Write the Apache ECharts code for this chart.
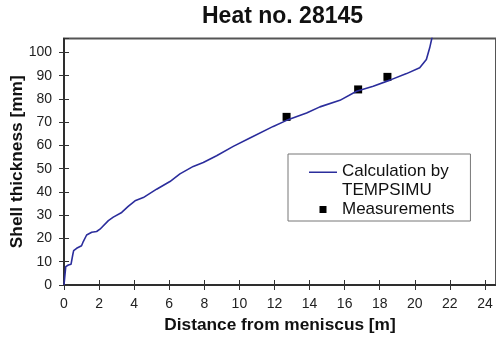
<!DOCTYPE html>
<html>
<head>
<meta charset="utf-8">
<script src="https://cdn.jsdelivr.net/npm/echarts@6/dist/echarts.min.js"></script>
<style>html,body{margin:0;padding:0;background:#fff}#c{width:496px;height:341px}</style>
</head>
<body>
<div id="c"></div>
<script>
const titleText = 'Heat no. 28145';
const xName = 'Distance from meniscus [m]';
const yName = 'Shell thickness [mm]';
const calcName = 'Calculation by TEMPSIMU';
const measName = 'Measurements';

const calcX = [0, 0.05, 0.1, 0.25, 0.4, 0.5, 0.55, 0.72, 1.0, 1.1, 1.29, 1.58, 1.86, 2.05, 2.53, 2.81, 3.29, 3.66, 4.05, 4.52, 5.28, 6.04, 6.61, 7.37, 7.94, 8.7, 9.65, 10.6, 11.93, 12.69, 13.83, 14.59, 15.73, 16.68, 17.63, 18.58, 19.53, 20.28, 20.66, 20.85, 21.0];
const calcY = [0, 4, 7.9, 8.6, 8.9, 13, 14.8, 15.8, 16.9, 18.7, 21.5, 22.7, 23.0, 24.0, 27.7, 29.2, 31.2, 33.8, 36.2, 37.6, 41.2, 44.5, 47.8, 51.0, 52.7, 55.6, 59.6, 63.2, 68.2, 70.8, 74.0, 76.6, 79.4, 83.3, 85.5, 88.1, 90.9, 93.4, 97.0, 102, 107];

const measX = [12.69, 16.77, 18.44];
const measY = [72.3, 84.1, 89.5];

const FONT = '"Liberation Sans", Arial, sans-serif';
const chart = echarts.init(document.getElementById('c'), null, {renderer: 'canvas'});

const lineIcon = 'path://M0,0 L28,0 L28,1.6 L0,1.6 Z M0,19 L0.01,19 L0.01,19.01 Z';
const sqIcon = 'path://M0,0 L0.01,0 L0.01,0.01 Z M10.5,6 L17.5,6 L17.5,13 L10.5,13 Z M28,19 L27.99,19 L27.99,18.99 Z';

chart.setOption({
  animation: false,
  backgroundColor: '#fff',
  title: {
    text: titleText,
    left: 202, top: 5, padding: 0,
    textStyle: {fontFamily: FONT, fontSize: 23, fontWeight: 'bold', color: '#111'}
  },
  legend: {
    left: 288, top: 154,
    orient: 'vertical',
    padding: [8, 16, 2, 21],
    itemGap: 0,
    itemWidth: 28, itemHeight: 19,
    borderColor: '#777', borderWidth: 1,
    backgroundColor: '#fff',
    formatter: function (n) { return n === calcName ? 'Calculation by\nTEMPSIMU' : n; },
    textStyle: {fontFamily: FONT, fontSize: 17, color: '#111', lineHeight: 19},
    data: [
      {name: calcName, icon: lineIcon},
      {name: measName, icon: sqIcon}
    ]
  },
  grid: {left: 64, right: 0, top: 38.5, bottom: 56, show: true, borderColor: '#555', borderWidth: 2, backgroundColor: 'transparent', containLabel: false, outerBoundsMode: 'none'},
  xAxis: [{
    type: 'value', min: 0, max: 24.63, interval: 2,
    name: xName, nameLocation: 'middle', nameGap: 32, nameMoveOverlap: false,
    nameTextStyle: {fontFamily: FONT, fontSize: 17.3, fontWeight: 'bold', color: '#111'},
    axisLine: {show: true, lineStyle: {color: '#222', width: 1.5}},
    axisTick: {show: true, inside: false, length: 5, lineStyle: {color: '#333', width: 1}},
    axisLabel: {fontFamily: FONT, fontSize: 14, color: '#222', margin: 12, showMaxLabel: false},
    splitLine: {show: false}
  }, {
    type: 'value', min: 0, max: 24.63, interval: 2, position: 'bottom',
    axisLine: {show: false},
    axisTick: {show: true, inside: true, length: 5, lineStyle: {color: '#333', width: 1}},
    axisLabel: {show: false}, splitLine: {show: false}
  }],
  yAxis: [{
    type: 'value', min: 0, max: 106, interval: 10,
    name: yName, nameLocation: 'middle', nameGap: 38, nameMoveOverlap: false,
    nameTextStyle: {fontFamily: FONT, fontSize: 17.3, fontWeight: 'bold', color: '#111'},
    axisLine: {show: true, lineStyle: {color: '#222', width: 1.5}},
    axisTick: {show: true, inside: false, length: 5, lineStyle: {color: '#333', width: 1}},
    axisLabel: {fontFamily: FONT, fontSize: 14, color: '#222', margin: 12, showMaxLabel: false},
    splitLine: {show: false}
  }, {
    type: 'value', min: 0, max: 106, interval: 10, position: 'left',
    axisLine: {show: false},
    axisTick: {show: true, inside: true, length: 5, lineStyle: {color: '#333', width: 1}},
    axisLabel: {show: false}, splitLine: {show: false}
  }],
  series: [{
    name: calcName, type: 'line', xAxisIndex: 0, yAxisIndex: 0,
    data: calcX.map((x, i) => [x, calcY[i]]),
    showSymbol: false, symbol: 'none', smooth: false, clip: true,
    lineStyle: {color: '#2b2d9c', width: 1.6},
    itemStyle: {color: '#2b2d9c'}
  }, {
    name: measName, type: 'scatter', xAxisIndex: 0, yAxisIndex: 0,
    data: measX.map((x, i) => [x, measY[i]]),
    symbol: 'rect', symbolSize: 8,
    itemStyle: {color: '#000', opacity: 1}
  }]
});
</script>
</body>
</html>
